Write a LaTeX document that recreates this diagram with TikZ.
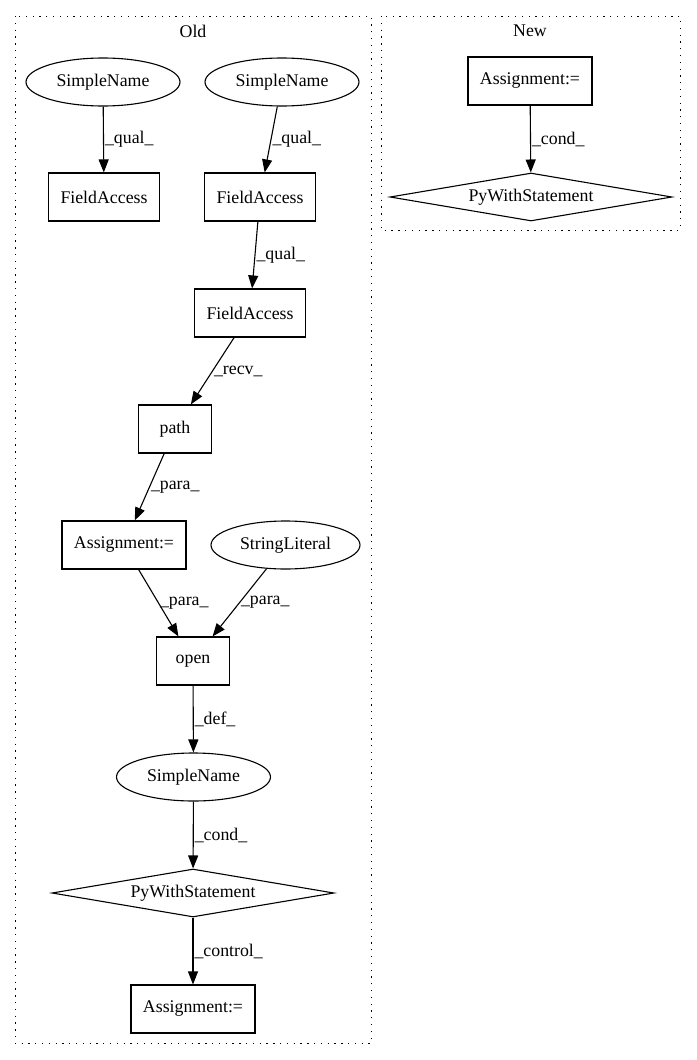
\documentclass[tikz,border=0pt]{standalone}
\usepackage{fontspec}
\setmainfont{Liberation Serif}
\usetikzlibrary{shapes, arrows.meta, positioning}
\newcommand{\gv}{\fontsize{17.8}{21}\selectfont}
\tikzstyle{block} = [draw, fill=white, rectangle, minimum width=73pt, minimum height=48pt, inner xsep=12pt]
\tikzstyle{oval} = [draw, ellipse, minimum width=154pt, minimum height=48pt, inner sep=0pt]
\tikzstyle{cond} = [draw, diamond, aspect=5.9, minimum width=282pt, minimum height=48pt, inner sep=0pt]
\tikzstyle{cluster} = [draw, line width=1pt, dash pattern=on 1.3pt off 5.5pt]
\tikzstyle{lbl} = [anchor=west, inner sep=1pt]

\begin{document}
\begin{tikzpicture}[x=1pt, y=-1pt, >={Triangle[length=13pt,width=10pt]}, line width=1.1pt, every node/.style={font=\gv}]
      \useasboundingbox (0,0) rectangle (696,1060);
      % clusters
      \draw[cluster] (15,16) rectangle (371,1043);
      \draw[cluster] (381,16) rectangle (680,230);
      \node (old) at (193,31) {Old};
      \node (new) at (530,31) {New};
      % old
      \node[oval] (sn1) at (103,82) {SimpleName};
      \node[oval] (sn2) at (282,82) {SimpleName};
      \node[block] (fa1) at (104,197) {FieldAccess};
      \node[block] (fa2) at (260,197) {FieldAccess};
      \node[block] (fa3) at (250,313) {FieldAccess};
      \node[block] (path) at (175,429) {path};
      \node[block] (as1) at (124,545) {Assignment:=};
      \node[oval, minimum width=149pt] (sl) at (285.5,545) {StringLiteral};
      \node[block] (open) at (193,661) {open};
      \node[oval] (sn3) at (193.5,777) {SimpleName};
      \node[cond] (with1) at (193,893) {PyWithStatement};
      \node[block] (as2) at (193,1009) {Assignment:=};
      \draw[->] (sn1) -- (fa1) node[lbl, midway] {\_qual\_};
      \draw[->] (sn2) -- (fa2) node[lbl, midway] {\_qual\_};
      \draw[->] (fa2) -- (fa3) node[lbl, midway] {\_qual\_};
      \draw[->] (fa3) -- (path) node[lbl, midway] {\_recv\_};
      \draw[->] (path) -- (as1) node[lbl, midway] {\_para\_};
      \draw[->] (as1) -- (open) node[lbl, midway] {\_para\_};
      \draw[->] (sl) -- (open) node[lbl, midway] {\_para\_};
      \draw[->] (open) -- (sn3) node[lbl, midway] {\_def\_};
      \draw[->] (sn3) -- (with1) node[lbl, midway] {\_cond\_};
      \draw[->] (with1) -- (as2) node[lbl, midway] {\_control\_};
      % new
      \node[block] (as3) at (530,81) {Assignment:=};
      \node[cond] (with2) at (531,197) {PyWithStatement};
      \draw[->] (as3) -- (with2) node[lbl, midway] {\_cond\_};
\end{tikzpicture}
\end{document}
